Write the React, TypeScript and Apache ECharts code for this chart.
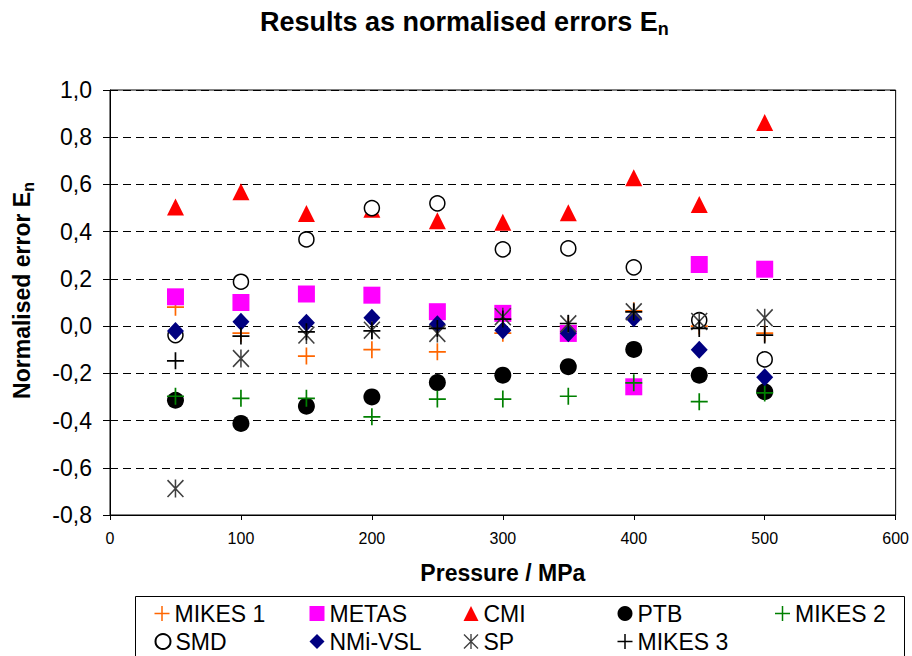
import React, { useEffect, useRef } from "react";
import * as echarts from "echarts";

// Pressure / MPa
const pressures = [50, 100, 150, 200, 250, 300, 350, 400, 450, 500];

// Normalised errors En per laboratory
const mikes1 = [0.08, -0.03, -0.127, -0.1, -0.109, -0.03, 0.0, 0.065, 0.0, -0.03];
const metas = [0.124, 0.1, 0.136, 0.131, 0.061, 0.054, -0.031, -0.257, 0.261, 0.241];
const cmi = [0.505, 0.569, 0.477, 0.495, 0.446, 0.44, 0.48, 0.628, 0.515, 0.862];
const ptb = [-0.314, -0.412, -0.339, -0.3, -0.239, -0.208, -0.172, -0.099, -0.208, -0.278];
const mikes2 = [-0.297, -0.306, -0.306, -0.384, -0.309, -0.309, -0.297, -0.24, -0.32, -0.283];
const smd = [-0.038, 0.188, 0.367, 0.5, 0.52, 0.325, 0.329, 0.249, 0.025, -0.141];
const nmiVsl = [-0.021, 0.018, 0.014, 0.035, 0.008, -0.017, -0.03, 0.033, -0.1, -0.217];
const sp = [-0.688, -0.137, -0.038, -0.017, -0.031, 0.04, 0.01, 0.061, 0.02, 0.035];
const mikes3 = [-0.147, -0.042, -0.024, -0.02, -0.01, 0.03, 0.011, 0.06, -0.01, -0.038];

const seriesNames = ["MIKES 1", "METAS", "CMI", "PTB", "MIKES 2", "SMD", "NMi-VSL", "SP", "MIKES 3"];
const seriesValues = [mikes1, metas, cmi, ptb, mikes2, smd, nmiVsl, sp, mikes3];

const yMin = -0.8;
const yMax = 1.0;
const yStep = 0.2;
const xMin = 0;
const xMax = 600;
const xStep = 100;

const FONT = "Arial, 'Liberation Sans', Helvetica, sans-serif";
const PLUS = "path://M9,0H11V9H20V11H11V20H9V11H0V9H9Z";
const STAR =
  "path://M9.1,0H10.9V20H9.1Z M0,1.3L1.3,0L20,18.7L18.7,20Z M20,1.3L1.3,20L0,18.7L18.7,0Z";

const styles: Record<string, any> = {
  "MIKES 1": { symbol: PLUS, symbolSize: 17, itemStyle: { color: "#FF6600", opacity: 1 } },
  METAS: { symbol: "rect", symbolSize: 17, itemStyle: { color: "#FF00FF", opacity: 1 } },
  CMI: { symbol: "triangle", symbolSize: 17, itemStyle: { color: "#FF0000", opacity: 1 } },
  PTB: { symbol: "circle", symbolSize: 17, itemStyle: { color: "#000000", opacity: 1 } },
  "MIKES 2": { symbol: PLUS, symbolSize: 17, itemStyle: { color: "#008000", opacity: 1 } },
  SMD: {
    symbol: "circle",
    symbolSize: 15,
    itemStyle: { color: "#FFFFFF", borderColor: "#000000", borderWidth: 1.5, opacity: 1 },
  },
  "NMi-VSL": { symbol: "diamond", symbolSize: [17, 18], itemStyle: { color: "#000080", opacity: 1 } },
  SP: { symbol: STAR, symbolSize: [17, 18], itemStyle: { color: "#404040", opacity: 1 } },
  "MIKES 3": { symbol: PLUS, symbolSize: 17, itemStyle: { color: "#000000", opacity: 1 } },
};

const fmt = (v: number) => (Math.abs(v) < 1e-9 ? 0 : v).toFixed(1).replace(".", ",");

export default function App() {
  const ref = useRef<HTMLDivElement>(null);

  useEffect(() => {
    document.body.style.margin = "0";
    if (!ref.current) return;
    const chart = echarts.init(ref.current, undefined, { renderer: "svg" });

    const series = seriesNames.map((name, i) => ({
      name,
      type: "scatter",
      data: pressures.map((p, j) => [p, seriesValues[i][j]]),
      ...styles[name],
      emphasis: { disabled: true },
    }));

    const legendCols = [154.5, 309.5, 463.5, 617.5, 775];
    const legendRows = [602, 630];
    const legends = seriesNames.map((name, i) => ({
      data: [name],
      left: legendCols[i % 5],
      top: legendRows[Math.floor(i / 5)],
      padding: 0,
      itemWidth: 15,
      itemHeight: 15,
      itemGap: 0,
      selectedMode: false,
      textStyle: { fontSize: 23, color: "#000", fontFamily: FONT },
    }));

    chart.setOption({
      animation: false,
      backgroundColor: "#FFFFFF",
      title: {
        text: "{a|Results as normalised errors E}{s|n}",
        left: 255,
        top: 1,
        textStyle: {
          rich: {
            a: { fontSize: 27, fontWeight: "bold", fontFamily: FONT, color: "#000", lineHeight: 32 },
            s: {
              fontSize: 18,
              fontWeight: "bold",
              fontFamily: FONT,
              color: "#000",
              lineHeight: 14,
              verticalAlign: "bottom",
            },
          },
        },
      },
      legend: legends,
      graphic: [
        {
          type: "rect",
          shape: { x: 135.5, y: 596.5, width: 769, height: 80 },
          style: { fill: "none", stroke: "#000", lineWidth: 1 },
          z: -1,
        },
      ],
      grid: {
        left: 110,
        right: 14,
        top: 90,
        bottom: 141,
        show: true,
        borderColor: "#000",
        borderWidth: 1,
        backgroundColor: "transparent",
      },
      xAxis: {
        type: "value",
        min: xMin,
        max: xMax,
        interval: xStep,
        name: "Pressure / MPa",
        nameLocation: "middle",
        nameGap: 46,
        nameTextStyle: { fontSize: 23, fontWeight: "bold", fontFamily: FONT, color: "#000" },
        axisLine: { show: true, onZero: false, lineStyle: { color: "#000", width: 1 } },
        axisTick: { show: true, inside: false, length: 5, lineStyle: { color: "#000" } },
        axisLabel: { fontSize: 16, fontFamily: FONT, color: "#000", margin: 15 },
        splitLine: { show: false },
      },
      yAxis: {
        type: "value",
        min: yMin,
        max: yMax,
        interval: yStep,
        name: "{a|Normalised error E}{s|n}",
        nameLocation: "middle",
        nameGap: 74,
        nameTextStyle: {
          padding: [0, 0, 0, 24],
          rich: {
            a: { fontSize: 23, fontWeight: "bold", fontFamily: FONT, color: "#000", lineHeight: 28 },
            s: {
              fontSize: 16,
              fontWeight: "bold",
              fontFamily: FONT,
              color: "#000",
              lineHeight: 12,
              verticalAlign: "bottom",
            },
          },
        },
        axisLine: { show: true, onZero: false, lineStyle: { color: "#000", width: 1 } },
        axisTick: { show: true, inside: false, length: 7, lineStyle: { color: "#000" } },
        axisLabel: { fontSize: 23, fontFamily: FONT, color: "#000", margin: 18, formatter: fmt },
        splitLine: { show: true, lineStyle: { color: "#000", width: 1, type: [8, 5] } },
      },
      series,
    });

    return () => chart.dispose();
  }, []);

  return <div ref={ref} style={{ width: 912, height: 656 }} />;
}
